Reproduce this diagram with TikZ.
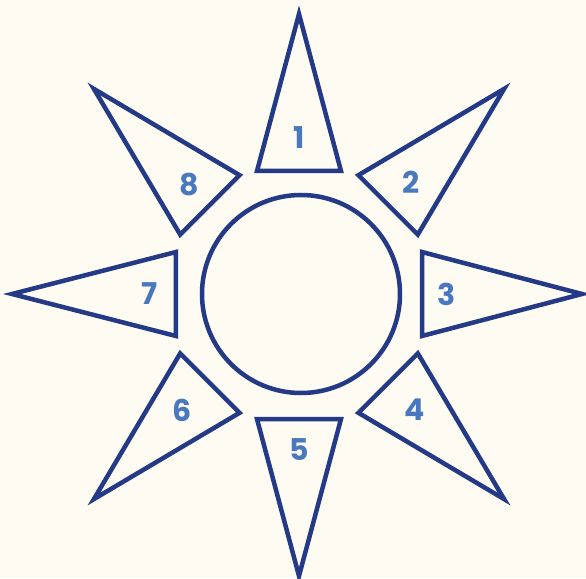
\documentclass[tikz,border=0pt]{standalone}
\usepackage{fontspec}
\setmainfont{Poppins}
\usetikzlibrary{calc}
\definecolor{paper}{HTML}{FEFBF3}
\definecolor{deepblue}{HTML}{243A86}
\definecolor{numblue}{HTML}{4A78BE}
\tikzset{
    ray/.style={draw=deepblue,line width=4.5pt,miter limit=25,line join=miter},
    hub/.style={circle,draw=deepblue,line width=4.5pt,minimum size=198pt,inner sep=0pt},
    num/.style={text=numblue,inner sep=0pt,font=\fontsize{30}{32}\selectfont\bfseries},
}

\begin{document}
\begin{tikzpicture}[x=1pt,y=1pt]
\fill[paper] (-299,-284) rectangle (287,294);
\node[hub] (hub) at (2,0) {};
% n / angle / base / tip / label radius
\foreach \n/\a/\b/\r/\t in {1/90/123/280/156,2/45/126/290/158,3/0/123/283/148,4/-45/126/290/163,
                             5/-90/125/282/156,6/-135/126/290/165,7/180/123/287/149,8/135/126/290/155}{
  \draw[ray,rotate=\a] (\b,42) -- (\r,0) -- (\b,-42) -- cycle;
  \node[num] (l\n) at (\a:\t) {\n};
}
\end{tikzpicture}
\end{document}
